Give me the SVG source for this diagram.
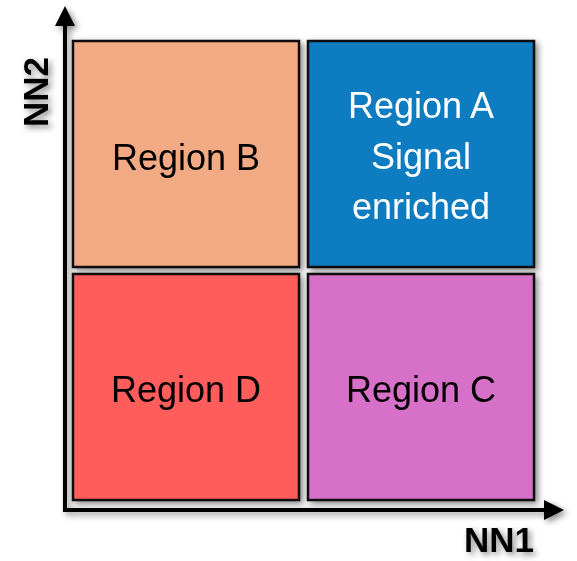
<svg xmlns="http://www.w3.org/2000/svg" width="577" height="561" viewBox="0 0 577 561">
<style>
.box{stroke:#111;stroke-width:2.5}
.lbl{font-family:"Liberation Sans",Arial,sans-serif;font-size:36px;text-anchor:middle}
.ax{font-family:"Liberation Sans",Arial,sans-serif;font-size:35px;font-weight:bold;text-anchor:middle}
.axis{stroke:#000;stroke-width:4;fill:none}
</style>
<defs>
<filter id="sh" x="-20%" y="-20%" width="140%" height="140%">
<feDropShadow dx="3" dy="3" stdDeviation="3" flood-color="#000" flood-opacity="0.45"/>
</filter>
<marker id="ah" viewBox="0 0 10 10" refX="2" refY="5" markerWidth="5" markerHeight="5" orient="auto" markerUnits="strokeWidth">
<path d="M0,0 L10,5 L0,10 Z" fill="#000"/>
</marker>
</defs>
<g id="connectors" filter="url(#sh)">
<path class="axis" d="M65,512 L65,22" marker-end="url(#ah)"/>
<path class="axis" d="M63,510 L548,510" marker-end="url(#ah)"/>
</g>
<g id="regionB" filter="url(#sh)">
<rect class="box" x="73" y="41" width="226" height="226" fill="#F2AA84"/>
<text class="lbl" x="186" y="170" fill="#000">Region B</text>
</g>
<g id="regionA" filter="url(#sh)">
<rect class="box" x="308" y="41" width="226" height="226" fill="#0D7BC0"/>
<text class="lbl" x="421" y="118" fill="#fff">Region A</text>
<text class="lbl" x="421" y="169" fill="#fff">Signal</text>
<text class="lbl" x="421" y="219" fill="#fff">enriched</text>
</g>
<g id="regionD" filter="url(#sh)">
<rect class="box" x="73" y="274" width="226" height="226" fill="#FF5B5B"/>
<text class="lbl" x="186" y="402" fill="#000">Region D</text>
</g>
<g id="regionC" filter="url(#sh)">
<rect class="box" x="308" y="274" width="226" height="226" fill="#D76FC8"/>
<text class="lbl" x="421" y="402" fill="#000">Region C</text>
</g>
<g id="axisLabels" filter="url(#sh)">
<text class="ax" x="499" y="552">NN1</text>
<text class="ax" transform="translate(48,92) rotate(-90)" x="0" y="0">NN2</text>
</g>
</svg>
